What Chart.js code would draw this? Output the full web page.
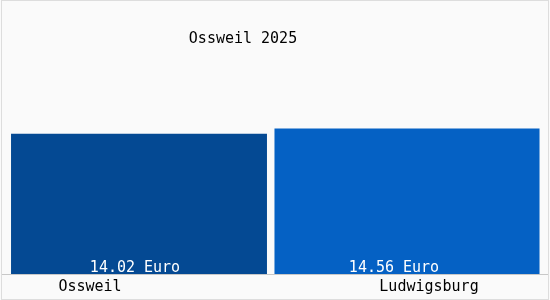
<!DOCTYPE html>
<html>
<head>
<meta charset="utf-8">
<script src="https://cdn.jsdelivr.net/npm/chart.js@4/dist/chart.umd.min.js"></script>
<style>
    html, body { margin: 0; padding: 0; background: #ffffff; }
    #wrap { width: 550px; height: 300px; position: relative; }
</style>
</head>
<body>
<div id="wrap"><canvas id="barchartLohn" width="550" height="300"></canvas></div>
<script>
// donnees
const titre = 'Ossweil 2025';
const villes = ['Ossweil', 'Ludwigsburg'];
const salaires = [14.02, 14.56];
const unite = 'Euro';
const couleurs = ['#044993', '#0561c4'];

// largeur relative de chaque barre, decalages des textes (px) par rapport au centre des barres
const largeurs = [0.955, 0.989];
const decalageValeurs = [-4, -13];
const decalageVilles = [-49, 22];

const FONT = '15px "DejaVu Sans Mono", "Liberation Mono", monospace';

// fond + cadre + ligne de base
const fondPlugin = {
    id: 'fond',
    beforeDraw(chart) {
        const ctx = chart.ctx;
        ctx.save();
        ctx.fillStyle = '#fafafa';
        ctx.fillRect(0, 0, chart.width, chart.height);
        ctx.strokeStyle = '#dddddd';
        ctx.lineWidth = 1;
        ctx.strokeRect(1.5, 0.5, chart.width - 3, chart.height - 1);
        ctx.restore();
    },
    afterDatasetsDraw(chart) {
        const ctx = chart.ctx;
        const y0 = chart.scales.y.getPixelForValue(0);
        ctx.save();
        ctx.strokeStyle = '#c8c8c8';
        ctx.lineWidth = 1;
        ctx.beginPath();
        ctx.moveTo(2, Math.round(y0) + 0.5);
        ctx.lineTo(chart.width - 2, Math.round(y0) + 0.5);
        ctx.stroke();
        ctx.restore();
    }
};

// titre, valeurs dans les barres et noms des villes
const textePlugin = {
    id: 'textes',
    afterDraw(chart) {
        const ctx = chart.ctx;
        ctx.save();
        ctx.font = FONT;
        ctx.textAlign = 'center';
        ctx.textBaseline = 'middle';

        ctx.fillStyle = '#000000';
        ctx.fillText(titre, 243, 39);

        for (let i = 0; i < villes.length; i++) {
            let bar = chart.getDatasetMeta(i).data[i];
            ctx.fillStyle = '#ffffff';
            ctx.fillText(salaires[i].toFixed(2) + ' ' + unite, bar.x + decalageValeurs[i], 268);
            ctx.fillStyle = '#000000';
            ctx.fillText(villes[i], bar.x + decalageVilles[i], 287);
        }
        ctx.restore();
    }
};

function loadBarChart(labels, valeurs, id) {
    let ctx = document.getElementById(id).getContext('2d');
    // un dataset par ville pour pouvoir regler la largeur de chaque barre
    let datasets = valeurs.map(function (v, i) {
        return {
            label: labels[i],
            data: valeurs.map((w, j) => (j === i ? w : null)),
            backgroundColor: couleurs[i],
            borderWidth: 0,
            categoryPercentage: 1.0,
            barPercentage: largeurs[i]
        };
    });
    return new Chart(ctx, {
        type: 'bar',
        data: {
            labels: labels,
            datasets: datasets
        },
        options: {
            responsive: false,
            animation: false,
            grouped: false,
            layout: { padding: { left: 5, right: 9, top: 74, bottom: 26 } },
            plugins: {
                legend: { display: false },
                title: { display: false },
                tooltip: { enabled: false }
            },
            scales: {
                x: { display: false },
                y: { display: false, min: 0, max: 20 }
            }
        },
        plugins: [fondPlugin, textePlugin]
    });
}

loadBarChart(villes, salaires, 'barchartLohn');
</script>
</body>
</html>
